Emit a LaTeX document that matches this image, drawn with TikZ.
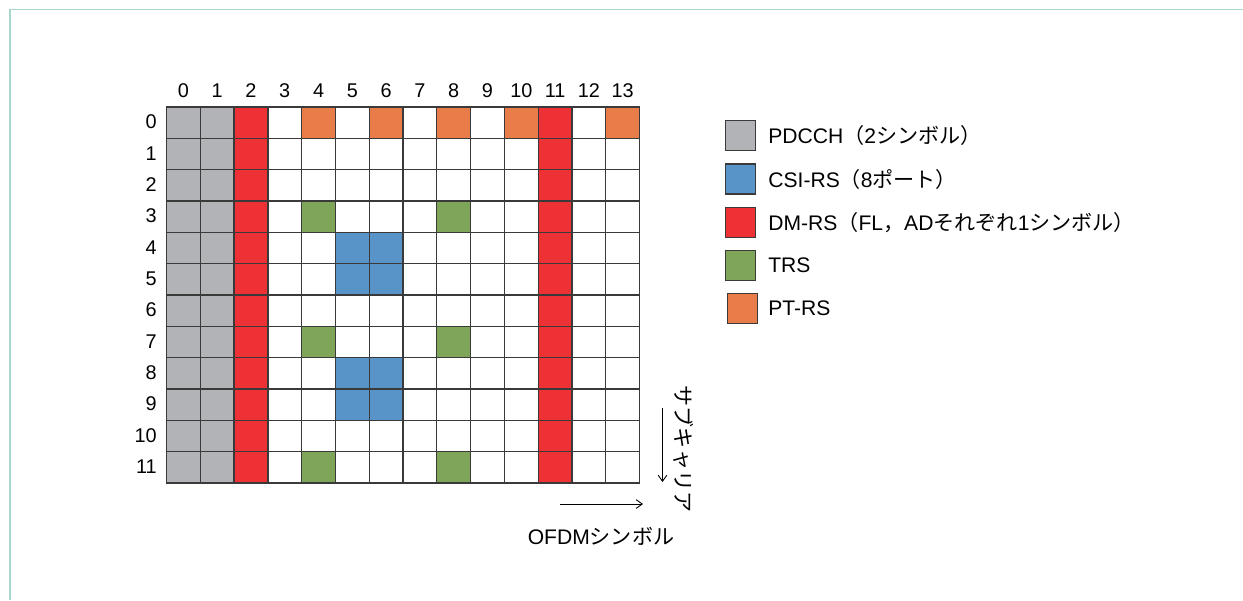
\documentclass[tikz,border=0pt]{standalone}
\usepackage{fontspec}
\setmainfont{Liberation Sans}
\newfontfamily\jafont{Noto Sans CJK JP}
\newcommand{\ja}[1]{{\jafont #1}}
\usetikzlibrary{positioning,arrows.meta}

\definecolor{pdcchgray}{HTML}{B2B3B7}
\definecolor{csiblue}{HTML}{5894C8}
\definecolor{dmrsred}{HTML}{EE3135}
\definecolor{trsgreen}{HTML}{7EA558}
\definecolor{ptrsorange}{HTML}{E87D4A}
\definecolor{gridgray}{HTML}{3A3A3A}
\definecolor{frameteal}{HTML}{A8D5CC}

\tikzset{
  num/.style={font=\fontsize{11.3}{13}\selectfont, inner sep=0pt, text height=0.72em, text depth=0pt},
  lbl/.style={font=\fontsize{12}{14}\selectfont, inner sep=0pt},
  legbox/.style={draw=gridgray, line width=0.7pt, minimum size=0.6cm, inner sep=0pt},
  legtext/.style={lbl, anchor=west},
  axisarrow/.style={-{Straight Barb[length=3.5pt,width=5pt]}, line width=0.5pt}
}

\begin{document}
\begin{tikzpicture}[x=0.02cm, y=-0.02cm]
    \useasboundingbox (0,0) rectangle (1243,600);

    % 枠
    \draw[frameteal, line width=0.85pt] (1243,9.5) -- (10,9.5) -- (10,600);

    % リソースグリッド
    \begin{scope}[xshift=3.33cm, yshift=-2.14cm, x=0.676cm, y=-0.6266cm]
        % PDCCH
        \fill[pdcchgray] (0,0) rectangle (2,12);
        % DM-RS
        \fill[dmrsred] (2,0) rectangle (3,12);
        \fill[dmrsred] (11,0) rectangle (12,12);
        % PT-RS
        \foreach \c in {4,6,8,10,13}
            \fill[ptrsorange] (\c,0) rectangle ++(1,1);
        % TRS
        \foreach \r in {3,7,11}
            \foreach \c in {4,8}
                \fill[trsgreen] (\c,\r) rectangle ++(1,1);
        % CSI-RS
        \fill[csiblue] (5,4) rectangle (7,6);
        \fill[csiblue] (5,8) rectangle (7,10);

        % 罫線
        \foreach \c in {0,...,14}
            \draw[gridgray, line width=0.75pt] (\c,0) -- (\c,12);
        \foreach \r in {0,...,12}
            \draw[gridgray, line width=0.75pt] (0,\r) -- (14,\r);

        % 番号
        \foreach \c in {0,...,13}
            \node[num] (col\c) at (\c+0.5,-0.52) {\c};
        \foreach \r in {0,...,11}
            \node[num, anchor=east] (row\r) at (-0.28,\r+0.5) {\r};
    \end{scope}

    % 軸
    \coordinate (subtop) at (662.5,408);
    \coordinate (subbot) at (662.5,482);
    \draw[axisarrow] (subtop) -- (subbot);
    \node[lbl, rotate=-90] (subcarrier) at (684,449) {\ja{サブキャリア}};

    \coordinate (symleft) at (560,504);
    \coordinate (symright) at (643,504);
    \draw[axisarrow] (symleft) -- (symright);
    \node[lbl] (ofdm) at (601,536) {OFDM\ja{シンボル}};

    % 凡例
    \node[legbox, fill=pdcchgray] (pdcchbox) at (740.5,135.7) {};
    \node[legtext] (pdcchtext) at (768,135.7) {PDCCH\ja{（}2\ja{シンボル）}};

    \node[legbox, fill=csiblue] (csibox) at (740.5,179) {};
    \node[legtext] (csitext) at (768,179) {CSI-RS\ja{（}8\ja{ポート）}};

    \node[legbox, fill=dmrsred] (dmrsbox) at (740.5,222.3) {};
    \node[legtext] (dmrstext) at (768,222.3) {DM-RS\ja{（}FL\ja{，}AD\ja{それぞれ}1\ja{シンボル）}};

    \node[legbox, fill=trsgreen] (trsbox) at (740.5,265.7) {};
    \node[legtext] (trstext) at (768,265.7) {TRS};

    \node[legbox, fill=ptrsorange] (ptrsbox) at (742.5,308.3) {};
    \node[legtext] (ptrstext) at (768,308.3) {PT-RS};
\end{tikzpicture}
\end{document}
